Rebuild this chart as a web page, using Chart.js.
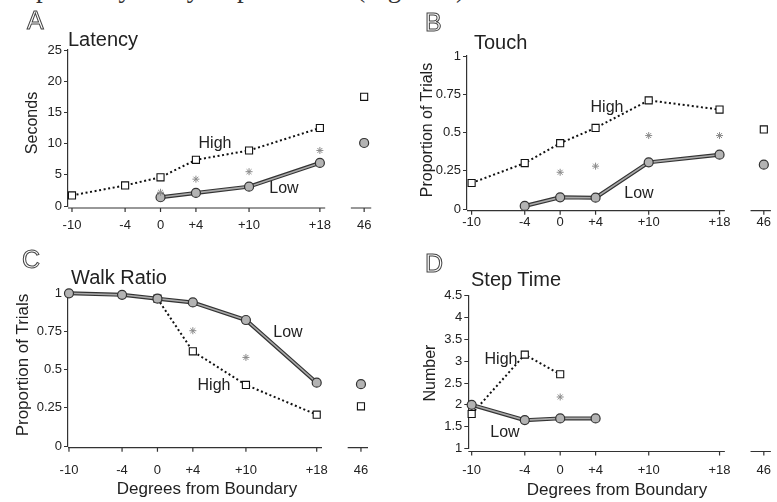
<!DOCTYPE html>
<html lang="en">
<head>
  <meta charset="UTF-8" />
  <title>Boundary panels</title>
  <script src="https://cdn.jsdelivr.net/npm/chart.js"></script>
  <style>
    body { margin: 0; background: #fff; }
    #wrap { position: relative; width: 777px; height: 502px; overflow: hidden;
            font-family: "Liberation Sans", Arial, sans-serif; color: #222; }
    canvas { position: absolute; left: 0; top: 0; }
    .t { position: absolute; white-space: nowrap; line-height: 1; }
    .letter { font-size: 25px; color: #fff; -webkit-text-stroke: 1px #444; }
    .title { font-size: 20px; }
    .lab { font-size: 16px; transform: translate(-50%, -50%); }
    .ytitle { font-size: 16px; transform: translate(-50%, -50%) rotate(-90deg); }
    .xtitle { font-size: 17px; transform: translate(-50%, -50%); }
    .para { font-family: "Liberation Serif", serif; font-size: 27px; left: 36px; top: -25px; color: #333; }
  </style>
</head>
<body>
<div id="wrap">
  <div class="t para">probably likely steps and left (Figure 2).</div>

  <canvas id="cA" width="777" height="502"></canvas>
  <canvas id="cB" width="777" height="502"></canvas>
  <canvas id="cC" width="777" height="502"></canvas>
  <canvas id="cD" width="777" height="502"></canvas>

  <div class="t letter" style="left:27px; top:8px">A</div>
  <div class="t letter" style="left:425px; top:10px">B</div>
  <div class="t letter" style="left:22px; top:247px">C</div>
  <div class="t letter" style="left:425px; top:251px">D</div>

  <div class="t title" style="left:68px; top:29px">Latency</div>
  <div class="t title" style="left:474px; top:32px">Touch</div>
  <div class="t title" style="left:71px; top:267px">Walk Ratio</div>
  <div class="t title" style="left:471px; top:269px">Step Time</div>

  <div class="t ytitle" style="left:32px; top:123px">Seconds</div>
  <div class="t ytitle" style="left:427px; top:130px">Proportion of Trials</div>
  <div class="t ytitle" style="left:22px; top:365px; font-size:17px">Proportion of Trials</div>
  <div class="t ytitle" style="left:430px; top:373px">Number</div>

  <div class="t xtitle" style="left:207px; top:488px">Degrees from Boundary</div>
  <div class="t xtitle" style="left:617px; top:489px">Degrees from Boundary</div>

  <div class="t lab" style="left:215px; top:143px">High</div>
  <div class="t lab" style="left:284px; top:188px">Low</div>
  <div class="t lab" style="left:607px; top:107px">High</div>
  <div class="t lab" style="left:639px; top:193px">Low</div>
  <div class="t lab" style="left:288px; top:332px">Low</div>
  <div class="t lab" style="left:214px; top:385px">High</div>
  <div class="t lab" style="left:501px; top:359px">High</div>
  <div class="t lab" style="left:505px; top:432px">Low</div>
</div>

<script>
  // degrees from boundary, and the far (46) condition shown after the axis break
  const degrees = [-10, -4, 0, 4, 10, 18];
  const farDegree = 46;
  const tickDegrees = [-10, -4, 0, 4, 10, 18, 46];
  const tickLabels = ['-10', '-4', '0', '+4', '+10', '+18', '46'];

  // A: latency (seconds)
  const latencyHigh = [1.7, 3.3, 4.6, 7.4, 8.9, 12.5];
  const latencyLow = [null, null, 1.4, 2.1, 3.1, 6.9];
  const latencyStar = [null, null, 2.2, 4.3, 5.5, 8.9];
  const latencyHighFar = 17.5;
  const latencyLowFar = 10.1;

  // B: touch (proportion of trials)
  const touchHigh = [0.17, 0.30, 0.43, 0.53, 0.71, 0.65];
  const touchLow = [null, 0.02, 0.076, 0.074, 0.305, 0.355];
  const touchStar = [null, null, 0.24, 0.28, 0.48, 0.48];
  const touchHighFar = 0.52;
  const touchLowFar = 0.29;

  // C: walk ratio (proportion of trials)
  const walkHigh = [null, null, 0.965, 0.62, 0.40, 0.205];
  const walkLow = [1.0, 0.99, 0.965, 0.94, 0.825, 0.415];
  const walkStar = [null, null, null, 0.755, 0.58, null];
  const walkHighFar = 0.26;
  const walkLowFar = 0.405;

  // D: step time (number)
  const stepHigh = [1.79, 3.15, 2.7, null, null, null];
  const stepLow = [2.0, 1.65, 1.69, 1.69, null, null];
  const stepStar = [null, null, 2.18, null, null, null];

  // axis break: 46 is drawn just past +18
  const axisPos = d => (d > 18 ? 23 : d);

  function pts(ys) {
    return degrees.map((d, i) => (ys[i] == null ? null : { x: axisPos(d), y: ys[i] })).filter(Boolean);
  }

  const brokenAxis = {
    id: 'brokenAxis',
    beforeDatasetsDraw(chart, args, opts) {
      const xs = chart.scales.x, ctx = chart.ctx;
      const y0 = chart.chartArea.bottom + opts.offset;
      ctx.save();
      ctx.strokeStyle = '#333';
      ctx.lineWidth = 1.2;
      ctx.beginPath();
      [[xs.min, 18.6], [21.5, 23.8]].forEach(([a, b]) => {
        ctx.moveTo(xs.getPixelForValue(a), y0);
        ctx.lineTo(xs.getPixelForValue(b), y0);
      });
      xs.ticks.forEach(t => {
        const px = xs.getPixelForValue(t.value);
        ctx.moveTo(px, y0);
        ctx.lineTo(px, y0 + 4);
      });
      ctx.stroke();
      ctx.restore();
    }
  };

  Chart.defaults.font.family = '"Liberation Sans", Arial, sans-serif';
  Chart.defaults.color = '#222';

  function makePanel(id, g, s) {
    const sets = [
      { data: pts(s.star), showLine: false, pointStyle: 'star', pointRadius: 3.5,
        borderColor: '#8a8a8a', borderWidth: 1, order: 0 },
      { data: pts(s.low), borderColor: '#a9a9a9', borderWidth: 1.6, pointStyle: 'circle',
        pointRadius: 4.5, pointBackgroundColor: '#b3b3b3', pointBorderColor: '#333',
        pointBorderWidth: 1.2, order: 1 },
      { data: pts(s.low), borderColor: '#333', borderWidth: 4, pointRadius: 0, order: 2 },
      { data: pts(s.high), borderColor: '#111', borderWidth: 2, borderDash: [2, 2.6],
        pointStyle: 'rect', pointRadius: 5, pointBackgroundColor: '#fff',
        pointBorderColor: '#111', pointBorderWidth: 1.1, order: 3 }
    ];
    if (s.lowFar != null) {
      sets.push({ data: [{ x: axisPos(farDegree), y: s.lowFar }], showLine: false, pointStyle: 'circle',
        pointRadius: 4.5, pointBackgroundColor: '#b3b3b3', pointBorderColor: '#333',
        pointBorderWidth: 1.2, order: 1 });
      sets.push({ data: [{ x: axisPos(farDegree), y: s.highFar }], showLine: false, pointStyle: 'rect',
        pointRadius: 5, pointBackgroundColor: '#fff', pointBorderColor: '#111',
        pointBorderWidth: 1.1, order: 3 });
    }
    sets.forEach(d => { d.clip = false; d.tension = 0; });

    new Chart(document.getElementById(id), {
      type: 'line',
      data: { datasets: sets },
      options: {
        responsive: false,
        animation: false,
        devicePixelRatio: 1,
        layout: { padding: { left: g.left - 40, top: g.top, right: 777 - g.right, bottom: 502 - g.bottom - 30 } },
        plugins: { legend: { display: false }, tooltip: { enabled: false }, brokenAxis: { offset: g.offset } },
        scales: {
          x: {
            type: 'linear', min: g.xmin, max: g.xmax,
            afterBuildTicks: sc => { sc.ticks = tickDegrees.map(v => ({ value: axisPos(v) })); },
            ticks: { padding: g.labelPad, autoSkip: false, maxRotation: 0, font: { size: 13 },
                     callback: (v, i) => tickLabels[i] },
            grid: { display: false, drawTicks: false },
            border: { display: false },
            afterFit: sc => { sc.height = 30; sc.paddingLeft = 0; sc.paddingRight = 0; }
          },
          y: {
            min: g.ymin, max: g.ymax,
            ticks: { stepSize: g.step, padding: 2, font: { size: 13 }, callback: v => String(v) },
            grid: { drawOnChartArea: false, tickLength: 4, color: '#333' },
            border: { color: '#333', width: 1.2 },
            afterFit: sc => { sc.width = 40; sc.paddingTop = 0; sc.paddingBottom = 0; }
          }
        }
      },
      plugins: [brokenAxis]
    });
  }

  makePanel('cA',
    { left: 68, right: 373, top: 50, bottom: 206, xmin: -10.45, xmax: 24, ymin: 0, ymax: 25, step: 5, labelPad: 12, offset: 2 },
    { high: latencyHigh, low: latencyLow, star: latencyStar, highFar: latencyHighFar, lowFar: latencyLowFar });

  makePanel('cB',
    { left: 467, right: 775.4, top: 56, bottom: 209, xmin: -10.52, xmax: 23.8, ymin: 0, ymax: 1, step: 0.25, labelPad: 6, offset: 1.7 },
    { high: touchHigh, low: touchLow, star: touchStar, highFar: touchHighFar, lowFar: touchLowFar });

  makePanel('cC',
    { left: 68, right: 369.8, top: 293.3, bottom: 446, xmin: -10.11, xmax: 24, ymin: 0, ymax: 1, step: 0.25, labelPad: 17, offset: 1.7 },
    { high: walkHigh, low: walkLow, star: walkStar, highFar: walkHighFar, lowFar: walkLowFar });

  makePanel('cD',
    { left: 468.3, right: 773.5, top: 295.7, bottom: 448.5, xmin: -10.38, xmax: 23.8, ymin: 1, ymax: 4.5, step: 0.5, labelPad: 14.5, offset: 3 },
    { high: stepHigh, low: stepLow, star: stepStar });
</script>
</body>
</html>
